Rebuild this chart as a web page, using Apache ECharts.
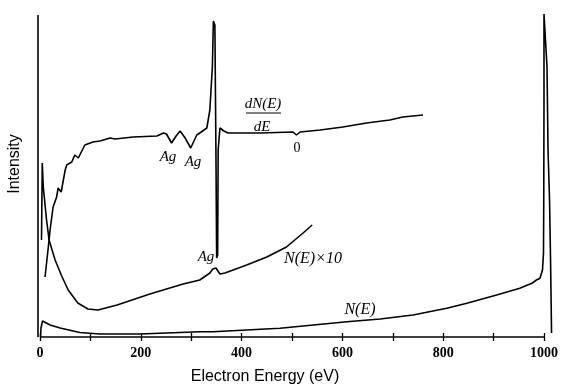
<!DOCTYPE html>
<html>
<head>
<meta charset="utf-8">
<script src="https://cdn.jsdelivr.net/npm/echarts@6/dist/echarts.min.js"></script>
<style>html,body{margin:0;padding:0;background:#fff;}#c{width:568px;height:391px;}</style>
</head>
<body>
<div id="c"></div>
<script>
// Tick labels of the energy axis (eV)
const xTicks = [0, 200, 400, 600, 800, 1000];
// All tick marks (major + minor)
const xTickMarks = [0, 100, 200, 300, 400, 500, 600, 700, 800, 900, 1000];

// dN(E)/dE curve: [energy eV, intensity (arb.)]
const dNdE = [
  [10,60],[18,97],[20,107],[26,130],[33,140],[36,149],[42,145],[50,167],[53,172],[63,175],
  [69,182],[76,179],[89,192],[105,195],[119,196],[139,199],[149,198],[185,200],[232,201],
  [245,204],[251,203],[261,194],[270,201],[278,206],[288,199],[299,189],[311,202],[317,204],
  [331,209],[337,227],[342,270],[344,316],[347,312],[349,190],[350.5,79],[352.5,82],[353.5,187],
  [357,209],[365,206],[373,204],[390,204],[437,204],[502,205],[509,202],[516,205],[556,207],
  [601,210],[648,214],[694,217],[720,220],[760,222]
];

// N(E) x 10 curve
const NEx10 = [
  [3,97],[4.5,174],[6.5,150],[13,117],[18,97],[30,77],[43,61],[56,47],[75,34],[95,28],
  [115,27],[153,32],[218,43],[284,53],[317,57],[337,64],[343,68],[349,69],[357,63],[367,64],
  [410,72],[450,80],[489,90],[522,104],[540,112]
];

// Off-scale low-energy secondary peak (left edge)
const secondaryPeak = [[-4,0],[-4,322]];

// N(E) curve
const NE = [
  [1,0],[2,9],[5,16],[8,15],[20,12],[40,9],[79,4.5],[119,3],[198,3],[317,5.3],[343,5.3],
  [476,8.7],[609,15.3],[675,18],[740,22],[807,28.7],[847,33.7],[906,42],[952,48.7],[976,53.7],
  [985,57],[992,58.7],[997,67],[999,84],[999.5,137],[1000,237],[1000,323],[1003,324],
  [1006,270],[1008,187],[1011,137],[1013,77],[1015,4]
];

// Energy axis baseline extent
const axisExtent = [0, 1000];

const chart = echarts.init(document.getElementById('c'));
const lineStyle = {color:'#000', width:1.6};
const mkSeries = (name, data, extra) => Object.assign({
  name, type:'line', data, showSymbol:false, symbol:'none',
  lineStyle, xAxisIndex:0, yAxisIndex:0, animation:false
}, extra || {});

const serif = 'Liberation Serif';
const txt = (x, y, text, size, italic) => ({
  type:'text', style:{
    x, y, text, fill:'#000', font:(italic?'italic ':'')+size+'px "'+serif+'"',
    textAlign:'center', textVerticalAlign:'middle'
  }
});

// grid: 0 eV at x=40, 0.504 px per eV
const pxPerEV = 0.504;
const xMin = -10, xMax = 1040;
const gridLeft = 40 + xMin * pxPerEV;
const gridWidth = (xMax - xMin) * pxPerEV;

const tickCommon = {show:true, length:4, customValues:xTickMarks, lineStyle:{color:'#000', width:1.3}};

chart.setOption({
  animation:false,
  backgroundColor:'#fff',
  grid:{left:gridLeft, width:gridWidth, top:7, bottom:54, containLabel:false},
  xAxis:[{
    type:'value', min:xMin, max:xMax,
    axisLine:{show:false},
    axisTick:Object.assign({}, tickCommon),
    axisLabel:{show:true, color:'#000', fontFamily:serif, fontWeight:'bold', fontSize:14, margin:9,
      customValues:xTicks, showMinLabel:true, showMaxLabel:true,
      formatter:(v)=>String(v)},
    splitLine:{show:false}
  },{
    type:'value', min:xMin, max:xMax, position:'bottom',
    axisLine:{show:false},
    axisTick:Object.assign({}, tickCommon, {inside:true}),
    axisLabel:{show:false}, splitLine:{show:false}
  }],
  yAxis:{
    type:'value', min:0, max:330,
    axisLine:{show:false}, axisTick:{show:false}, axisLabel:{show:false}, splitLine:{show:false}
  },
  series:[
    mkSeries('dN(E)/dE', dNdE),
    mkSeries('N(E)x10', NEx10),
    mkSeries('secondary', secondaryPeak),
    mkSeries('N(E)', NE, {
      markLine:{
        silent:true, symbol:['none','none'], label:{show:false}, animation:false,
        lineStyle:{color:'#000', width:1.5, type:'solid'},
        data:[[{coord:[axisExtent[0],0]},{coord:[axisExtent[1],0]}]]
      }
    })
  ],
  graphic:[
    {type:'text', style:{x:265, y:377, text:'Electron Energy (eV)', fill:'#000',
      font:'16px "Liberation Sans"', textAlign:'center', textVerticalAlign:'middle'}},
    {type:'text', rotation:Math.PI/2, x:15, y:164, style:{x:0, y:0, text:'Intensity', fill:'#000',
      font:'16px "Liberation Sans"', textAlign:'center', textVerticalAlign:'middle'}},
    txt(168, 157, 'Ag', 15, true),
    txt(193, 162, 'Ag', 15, true),
    txt(206, 257, 'Ag', 15, true),
    txt(313, 259, 'N(E)\u00d710', 16, true),
    txt(360, 310, 'N(E)', 16, true),
    txt(297, 148, '0', 14, false),
    txt(263, 104, 'dN(E)', 15, true),
    {type:'line', shape:{x1:246, y1:113, x2:281, y2:113}, style:{stroke:'#000', lineWidth:1}},
    txt(262, 127, 'dE', 15, true)
  ]
});
</script>
</body>
</html>
